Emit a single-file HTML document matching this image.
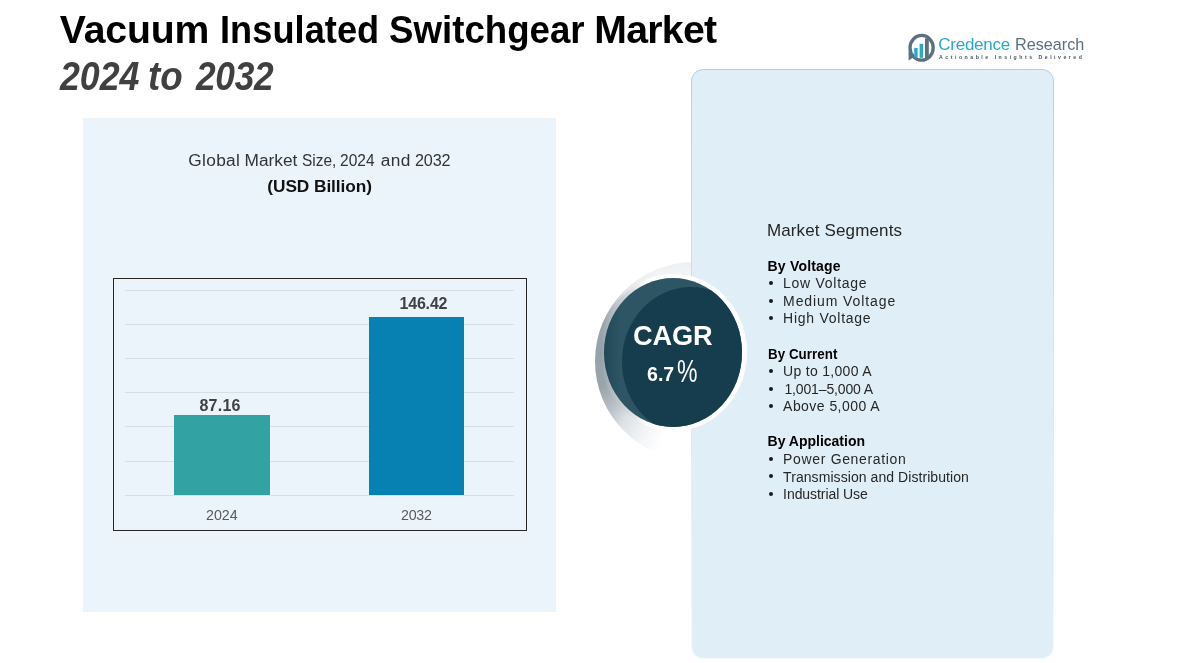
<!DOCTYPE html>
<html lang="en">
<head>
<meta charset="utf-8">
<title>Vacuum Insulated Switchgear Market 2024 to 2032</title>
<style>
  html, body { margin: 0; padding: 0; }
  body {
    width: 1197px; height: 663px; overflow: hidden; position: relative;
    background: #ffffff;
    font-family: "Liberation Sans", sans-serif;
    color: #000;
  }
  .abs { position: absolute; white-space: nowrap; }
  .tx { position: absolute; white-space: nowrap; line-height: 1; transform-origin: 0 50%; }

  /* chart panel */
  #chartPanel { left: 83px; top: 118px; width: 473px; height: 494px; background: #ebf4fb; }
  #plot { left: 113px; top: 277.5px; width: 414px; height: 253.5px; border: 1.2px solid #262626; box-sizing: border-box; }
  .grid { position: absolute; left: 125px; width: 389px; height: 1px; background: #d7dfe5; }
  #b1 { position: absolute; left: 174.2px; top: 414.5px; width: 95.9px; height: 80.2px; background: #32a2a3; }
  #b2 { position: absolute; left: 369.2px; top: 317px; width: 94.7px; height: 177.7px; background: #0681b2; }

  /* segments panel */
  #segPanel {
    left: 690.8px; top: 68.8px; width: 363.2px; height: 590.4px; box-sizing: border-box;
    border-radius: 12.5px;
    background: linear-gradient(#e0eff7, #e0eff7) padding-box,
                linear-gradient(to bottom, #aed2e7 0%, #b9d8e9 15%, #cde2ed 40%, #e2eff6 70%, #f6fafc 100%) border-box;
    border: 1.8px solid transparent;
  }
  .bul { position: absolute; left: 769px; width: 4px; height: 4px; border-radius: 50%; background: #1a1a1a; }

  /* CAGR */
  #shadowCirc { left: 595px; top: 262px; width: 198px; height: 198px; border-radius: 50%;
    background:
      linear-gradient(to bottom, rgba(236,239,241,.95) 0%, rgba(255,255,255,0) 22%),
      radial-gradient(ellipse 64px 124px at 0px 93px, #96a2a9 0%, #99a5ab 28%, #b8c0c5 50%, #dde2e5 70%, #ebeef0 88%, #f6f7f8 105%, #ffffff 125%); }
  #ring { left: 600px; top: 273.7px; width: 147px; height: 157.6px; border-radius: 50%;
    background: linear-gradient(to right, #93a0a7 0%, #aab4ba 6%, #ffffff 32%); }
  #disc { left: 604.4px; top: 278.2px; width: 138px; height: 148.6px; border-radius: 50%;
    background: linear-gradient(to right, #1f4858 0%, #2e5563 12%, #2e5563 100%); overflow: hidden; }
  #disc i { position: absolute; left: 18px; top: 9px; width: 138px; height: 148.6px; border-radius: 50%; background: #163d4e; }
  #pct { left: 677px; top: 354.5px; font-size: 32px; line-height: 1; color: #fff; transform: scaleX(.72); transform-origin: 0 50%; }

  /* logo */
  #logoTxt { left: 938px; top: 31px; font-size: 18px; line-height: 24px; color: #5b7080; }
  #logoTxt span { color: #2aa9c8; }
  #logoTag { left: 939px; top: 53px; font-size: 5.5px; line-height: 8px; font-weight: bold; letter-spacing: 2.2px; color: #4a5560; }
</style>
</head>
<body>

<div id="chartPanel" class="abs"></div>
<div id="plot" class="abs"></div>
<div class="grid" style="top:290px"></div>
<div class="grid" style="top:324px"></div>
<div class="grid" style="top:358px"></div>
<div class="grid" style="top:392px"></div>
<div class="grid" style="top:426px"></div>
<div class="grid" style="top:461px"></div>
<div class="grid" style="top:495px"></div>
<div id="b1"></div>
<div id="b2"></div>

<div id="shadowCirc" class="abs"></div>
<div id="segPanel" class="abs"></div>
<div id="ring" class="abs"></div>
<div id="disc" class="abs"><i></i></div>
<div id="pct" class="abs">%</div>

<div class="bul" style="top:281px"></div>
<div class="bul" style="top:299px"></div>
<div class="bul" style="top:316px"></div>
<div class="bul" style="top:369px"></div>
<div class="bul" style="top:387px"></div>
<div class="bul" style="top:404px"></div>
<div class="bul" style="top:457px"></div>
<div class="bul" style="top:474px"></div>
<div class="bul" style="top:492px"></div>

<svg class="abs" style="left:904px;top:30px" width="36" height="36" viewBox="0 0 36 36">
  <ellipse cx="17.6" cy="17.8" rx="11.6" ry="12.4" fill="none" stroke="#5b7080" stroke-width="3.3"/>
  <path d="M4.5 21.5 L4.7 30.4 L9.6 27.2 Z" fill="#5b7080"/>
  <rect x="10.2" y="18" width="3.5" height="9.6" fill="#29aacb"/>
  <rect x="15.6" y="13.8" width="3.5" height="14" fill="#29aacb"/>
  <rect x="21" y="8.4" width="3.8" height="20" fill="#5b7080"/>
</svg>

<div class="tx" id="t1a" style="left:59.86px;top:9.50px;font-size:39.2px;font-weight:bold;color:#000;letter-spacing:-0.180px;">Vacuum</div>
<div class="tx" id="t1b" style="left:220.25px;top:9.50px;font-size:39.2px;font-weight:bold;color:#000;letter-spacing:0.056px;transform:scaleX(0.9232);">Insulated</div>
<div class="tx" id="t1c" style="left:389.15px;top:9.50px;font-size:39.2px;font-weight:bold;color:#000;transform:scaleX(0.9358);">Switchgear</div>
<div class="tx" id="t1d" style="left:594.30px;top:9.50px;font-size:39.2px;font-weight:bold;color:#000;letter-spacing:-0.720px;">Market</div>
<div class="tx" id="t2a" style="left:59.90px;top:55.50px;font-size:40px;font-weight:bold;font-style:italic;color:#404040;transform:scaleX(0.8934);">2024</div>
<div class="tx" id="t2b" style="left:148.14px;top:55.50px;font-size:40px;font-weight:bold;font-style:italic;color:#404040;transform:scaleX(0.9186);">to</div>
<div class="tx" id="t2c" style="left:195.52px;top:55.50px;font-size:40px;font-weight:bold;font-style:italic;color:#404040;letter-spacing:-0.300px;transform:scaleX(0.8827);">2032</div>
<div class="tx" id="s1a" style="left:188.16px;top:151.71px;font-size:17.3px;color:#333;letter-spacing:0.360px;">Global</div>
<div class="tx" id="s1b" style="left:244.58px;top:151.71px;font-size:17.3px;color:#333;">Market</div>
<div class="tx" id="s1c" style="left:301.72px;top:151.71px;font-size:17.3px;color:#333;transform:scaleX(0.8950);">Size,</div>
<div class="tx" id="s1d" style="left:340.32px;top:151.71px;font-size:17.3px;color:#333;transform:scaleX(0.8976);">2024</div>
<div class="tx" id="s1e" style="left:380.70px;top:151.71px;font-size:17.3px;color:#333;letter-spacing:0.450px;">and</div>
<div class="tx" id="s1f" style="left:415.04px;top:151.71px;font-size:17.3px;color:#333;letter-spacing:-0.150px;transform:scaleX(0.9364);">2032</div>
<div class="tx" id="s2" style="left:267.32px;top:178.00px;font-size:17.3px;font-weight:bold;color:#111;letter-spacing:-0.075px;">(USD Billion)</div>
<div class="tx" id="v1" style="left:199.48px;top:398.20px;font-size:16px;font-weight:bold;color:#404040;letter-spacing:0.225px;">87.16</div>
<div class="tx" id="v2" style="left:399.48px;top:296.20px;font-size:16px;font-weight:bold;color:#404040;letter-spacing:-0.180px;">146.42</div>
<div class="tx" id="c1" style="left:206.34px;top:507.51px;font-size:14.7px;color:#595959;transform:scaleX(0.9714);">2024</div>
<div class="tx" id="c2" style="left:401.10px;top:507.51px;font-size:14.7px;color:#595959;letter-spacing:-0.300px;transform:scaleX(0.9700);">2032</div>
<div class="tx" id="mh" style="left:766.96px;top:221.72px;font-size:17px;color:#262626;letter-spacing:0.129px;">Market Segments</div>
<div class="tx" id="h1" style="left:767.53px;top:258.61px;font-size:14px;font-weight:bold;color:#000;letter-spacing:0.200px;">By Voltage</div>
<div class="tx" id="l1" style="left:783.10px;top:276.21px;font-size:14px;color:#262626;letter-spacing:0.720px;">Low Voltage</div>
<div class="tx" id="l2" style="left:783.10px;top:293.81px;font-size:14px;color:#262626;letter-spacing:0.900px;">Medium Voltage</div>
<div class="tx" id="l3" style="left:783.10px;top:311.41px;font-size:14px;color:#262626;letter-spacing:0.736px;">High Voltage</div>
<div class="tx" id="h2" style="left:767.53px;top:346.61px;font-size:14px;font-weight:bold;color:#000;letter-spacing:0.050px;transform:scaleX(0.9533);">By Current</div>
<div class="tx" id="l4" style="left:783.10px;top:364.21px;font-size:14px;color:#262626;letter-spacing:0.300px;">Up to 1,000 A</div>
<div class="tx" id="l5" style="left:784.48px;top:381.81px;font-size:14px;color:#262626;letter-spacing:-0.150px;">1,001–5,000 A</div>
<div class="tx" id="l6" style="left:783.10px;top:399.41px;font-size:14px;color:#262626;letter-spacing:0.450px;">Above 5,000 A</div>
<div class="tx" id="h3" style="left:767.53px;top:434.41px;font-size:14px;font-weight:bold;color:#000;">By Application</div>
<div class="tx" id="l7" style="left:783.10px;top:452.01px;font-size:14px;color:#262626;letter-spacing:0.660px;">Power Generation</div>
<div class="tx" id="l8" style="left:783.10px;top:469.61px;font-size:14px;color:#262626;letter-spacing:0.064px;">Transmission and Distribution</div>
<div class="tx" id="l9" style="left:783.10px;top:487.31px;font-size:14px;color:#262626;letter-spacing:-0.069px;">Industrial Use</div>
<div class="tx" id="g1" style="left:633.10px;top:322.22px;font-size:28px;font-weight:bold;color:#fff;letter-spacing:-0.150px;transform:scaleX(0.9707);">CAGR</div>
<div class="tx" id="g2" style="left:647.04px;top:362.70px;font-size:21px;font-weight:bold;color:#fff;transform:scaleX(0.9331);">6.7</div>
<div class="tx" id="lg1" style="left:938.29px;top:35.50px;font-size:17px;color:#2aa9c8;letter-spacing:-0.257px;">Credence</div>
<div class="tx" id="lg2" style="left:1014.88px;top:35.50px;font-size:17px;color:#5b7080;transform:scaleX(0.9526);">Research</div>
<div class="tx" id="lg3" style="left:939.10px;top:55.40px;font-size:5.2px;font-weight:bold;color:#4a5560;letter-spacing:2.507px;">Actionable Insights Delivered</div>

</body>
</html>
